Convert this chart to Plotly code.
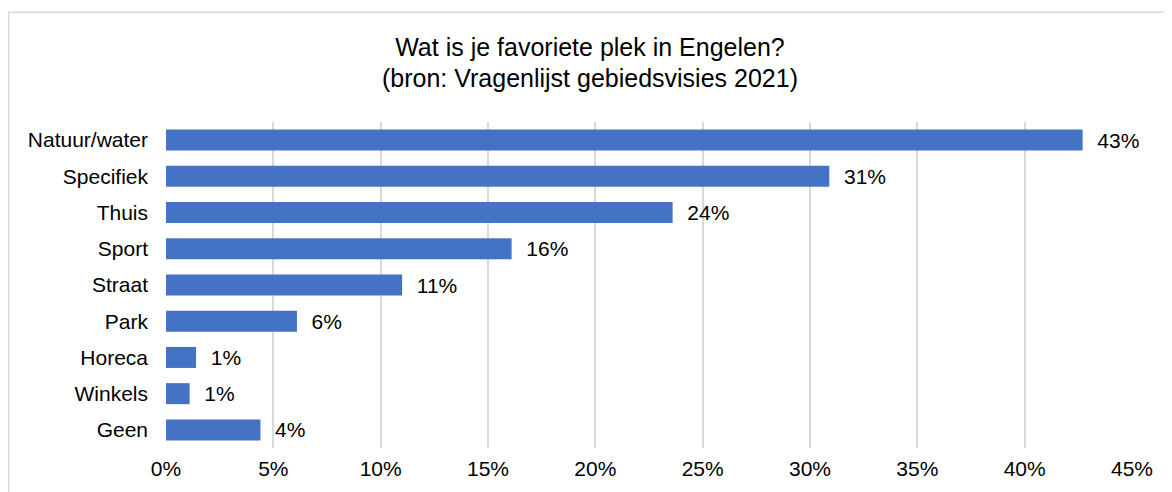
import plotly.graph_objects as go

categories = ["Natuur/water", "Specifiek", "Thuis", "Sport", "Straat", "Park", "Horeca", "Winkels", "Geen"]
values = [0.427, 0.309, 0.236, 0.161, 0.110, 0.061, 0.014, 0.011, 0.044]
tick_vals = [0, 0.05, 0.10, 0.15, 0.20, 0.25, 0.30, 0.35, 0.40, 0.45]
title_line1 = "Wat is je favoriete plek in Engelen?"
title_line2 = "(bron: Vragenlijst gebiedsvisies 2021)"

FONT = "Liberation Sans, Arial, sans-serif"
W, H = 1164, 484
L, R, T, B = 158, 40, 114, 39
PW, PH = W - L - R, H - T - B

fig = go.Figure(go.Bar(
    x=values,
    y=categories,
    orientation="h",
    marker=dict(color="#4472C4", line=dict(width=0)),
    texttemplate="\u00a0\u00a0%{x:.0%}",
    textposition="outside",
    constraintext="none",
    textfont=dict(family=FONT, size=21, color="#000000"),
    cliponaxis=False,
    width=0.58,
))

fig.update_layout(
    width=W, height=H,
    margin=dict(l=L, r=R, t=T, b=B),
    paper_bgcolor="white",
    plot_bgcolor="white",
    showlegend=False,
    title=dict(
        text=title_line1,
        x=0.5, xanchor="center",
        xref="container",
        y=1 - 39 / H, yanchor="middle",
        yref="container",
        font=dict(family=FONT, size=25, color="#000000"),
    ),
    annotations=[dict(
        text=title_line2,
        xref="paper", yref="paper",
        x=(W / 2 - L) / PW, y=(H - B - 69) / PH,
        xanchor="center", yanchor="middle",
        showarrow=False,
        font=dict(family=FONT, size=25, color="#000000"),
    )],
    font=dict(family=FONT, size=21, color="#000000"),
    xaxis=dict(
        range=[0, 0.45],
        tickvals=tick_vals,
        tickformat=".0%",
        showgrid=True,
        gridcolor="#d9d9d9",
        gridwidth=1.5,
        zeroline=False,
        showline=False,
        ticks="",
        ticklabelstandoff=6,
        tickfont=dict(family=FONT, size=21, color="#000000"),
    ),
    yaxis=dict(
        range=[len(categories) - 0.5, -0.5],
        autorange=False,
        showgrid=False,
        zeroline=False,
        showline=False,
        ticks="",
        ticklabelstandoff=17,
        tickfont=dict(family=FONT, size=21, color="#000000"),
    ),
    shapes=[dict(
        type="rect", xref="paper", yref="paper",
        x0=(0.75 - L) / PW, x1=(W + 20 - L) / PW,
        y0=(H - B - (H + 20)) / PH, y1=(H - B - 2.5) / PH,
        line=dict(color="#d9d9d9", width=1.5),
        fillcolor="rgba(0,0,0,0)",
        layer="below",
    )],
)

fig.write_html("out.html")
